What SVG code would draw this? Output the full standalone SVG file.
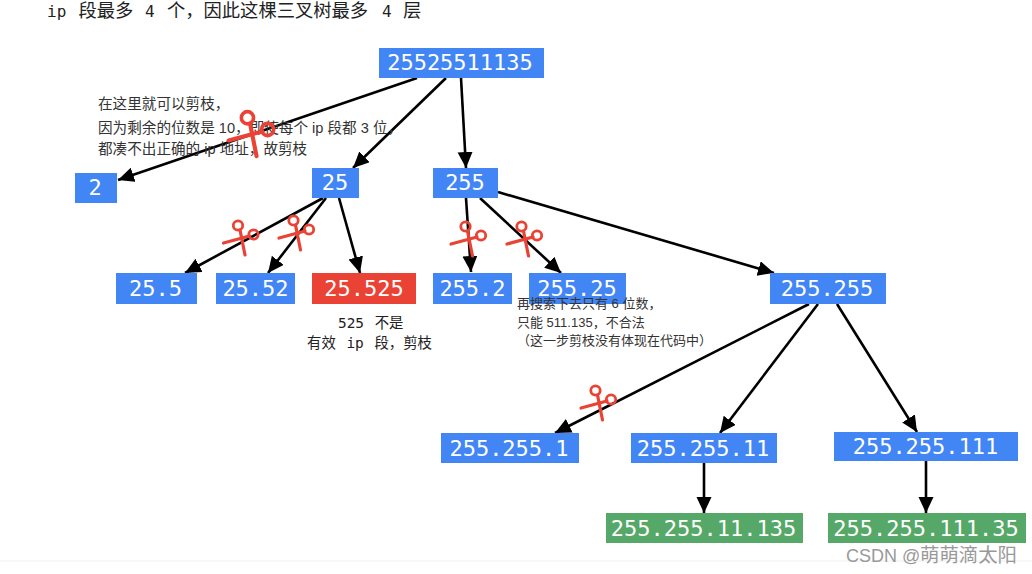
<svg xmlns="http://www.w3.org/2000/svg" width="1032" height="574" viewBox="0 0 1032 574">
<style>
.b{fill:#4285f4}.r{fill:#ea4335}.g{fill:#55a868}
.n{font-family:"DejaVu Sans Mono","Liberation Mono",monospace;font-size:22px;fill:#fff;text-anchor:middle}
.m{font-family:"DejaVu Sans Mono","Noto Sans CJK SC",monospace;fill:#222}
.s{font-family:"Liberation Sans","Noto Sans CJK SC",sans-serif;fill:#333}
.c line{stroke:#000;stroke-width:2.6;marker-end:url(#a)}
.sc{fill:none;stroke:#ea4335;stroke-width:2.8;stroke-linecap:round}
</style>
<defs>
<marker id="a" markerUnits="userSpaceOnUse" markerWidth="18" markerHeight="16" refX="16" refY="7.500" orient="auto"><path d="M0 0L16 7.500L0 15z" fill="#000"/></marker>
<g id="sc"><circle class="sc" cx="-3.5" cy="-12.5" r="4.700"/><circle class="sc" cx="12" cy="-3.500" r="4.700"/><path class="sc" d="M-1.500 -8L3.500 17" style="stroke-width:3.200"/><path class="sc" d="M8 -2L-18 5" style="stroke-width:3.200"/></g>
</defs>
<rect width="1032" height="574" fill="#fff"/>
<path d="M0 561H1032" stroke="#eee"/>
<g class="c">
<line x1="417" y1="78" x2="118" y2="180"/>
<line x1="446" y1="78" x2="353" y2="168"/>
<line x1="461" y1="78" x2="466" y2="168"/>
<line x1="323" y1="198" x2="185" y2="273"/>
<line x1="326" y1="198" x2="268" y2="273"/>
<line x1="339" y1="198" x2="360" y2="273"/>
<line x1="466" y1="198" x2="471" y2="272"/>
<line x1="480" y1="198" x2="561" y2="273"/>
<line x1="498" y1="192" x2="774" y2="273"/>
<line x1="809" y1="304" x2="555" y2="433"/>
<line x1="818" y1="304" x2="720" y2="433"/>
<line x1="837" y1="304" x2="917" y2="432"/>
<line x1="704" y1="463" x2="704" y2="513"/>
<line x1="926" y1="461" x2="926" y2="513"/>
</g>
<g id="root"><rect class="b" x="379" y="48" width="165" height="30"/><text class="n" x="460" y="70">25525511135</text></g>
<g id="n2"><rect class="b" x="75" y="173" width="42" height="30"/><text class="n" x="95" y="195">2</text></g>
<g id="n25"><rect class="b" x="312" y="168" width="47" height="30"/><text class="n" x="335" y="190">25</text></g>
<g id="n255"><rect class="b" x="433" y="168" width="65" height="30"/><text class="n" x="465" y="190">255</text></g>
<g id="n25-5"><rect class="b" x="116" y="273" width="81" height="31"/><text class="n" x="155.500" y="296">25.5</text></g>
<g id="n25-52"><rect class="b" x="216" y="273" width="79" height="31"/><text class="n" x="255.500" y="296">25.52</text></g>
<g id="n25-525"><rect class="r" x="312" y="273" width="104" height="31"/><text class="n" x="364" y="296">25.525</text></g>
<g id="n255-2"><rect class="b" x="433" y="273" width="79" height="31"/><text class="n" x="472.500" y="296">255.2</text></g>
<g id="n255-25"><rect class="b" x="529" y="273" width="97" height="31"/><text class="n" x="577" y="296">255.25</text></g>
<g id="n255-255"><rect class="b" x="770" y="273" width="116" height="31"/><text class="n" x="827" y="296">255.255</text></g>
<g id="n255-255-1"><rect class="b" x="441" y="433" width="138" height="30"/><text class="n" x="509" y="456">255.255.1</text></g>
<g id="n255-255-11"><rect class="b" x="631" y="433" width="146" height="30"/><text class="n" x="703" y="456">255.255.11</text></g>
<g id="n255-255-111"><rect class="b" x="834" y="432" width="184" height="29"/><text class="n" x="925.500" y="454">255.255.111</text></g>
<g id="n255-255-11-135"><rect class="g" x="606" y="513" width="197" height="30"/><text class="n" x="703.500" y="536">255.255.11.135</text></g>
<g id="n255-255-111-35"><rect class="g" x="828" y="513" width="198" height="30"/><text class="n" x="926" y="536">255.255.111.35</text></g>
<text class="m" x="47" y="17" font-size="16">ip <tspan x="78.500" font-size="18.300">段最多</tspan> <tspan x="145">4</tspan> <tspan x="167" font-size="18.300">个，因此这棵三叉树最多</tspan> <tspan x="382">4</tspan> <tspan x="403" font-size="18.300">层</tspan></text>
<text class="s" x="98" y="109" font-size="14.600">在这里就可以剪枝，</text>
<text class="s" x="98" y="133" font-size="14.600">因为剩余的位数是 10，即使每个 ip 段都 3 位，</text>
<text class="s" x="98" y="154" font-size="14.600">都凑不出正确的 ip 地址，故剪枝</text>
<text class="m" x="338" y="328" font-size="14.400" word-spacing="2">525 不是</text>
<text class="m" x="307" y="348" font-size="14.400" word-spacing="2">有效 ip 段，剪枝</text>
<text class="s" x="517" y="308" font-size="13">再搜索下去只有 6 位数，</text>
<text class="s" x="517" y="327" font-size="13">只能 511.135，不合法</text>
<text class="s" x="517" y="345" font-size="13"> （这一步剪枝没有体现在代码中）</text>
<use href="#sc" transform="translate(252 134) scale(1.3)"/>
<use href="#sc" transform="translate(241.500 238)"/>
<use href="#sc" transform="translate(297 233)"/>
<use href="#sc" transform="translate(469 239)"/>
<use href="#sc" transform="translate(525 239)"/>
<use href="#sc" transform="translate(599 403)"/>
<text x="846" y="562" font-family="'Liberation Sans','Noto Sans CJK SC',sans-serif" font-size="18" fill="#999">CSDN @<tspan x="920" font-size="19.400">萌萌滴太阳</tspan></text>
</svg>
